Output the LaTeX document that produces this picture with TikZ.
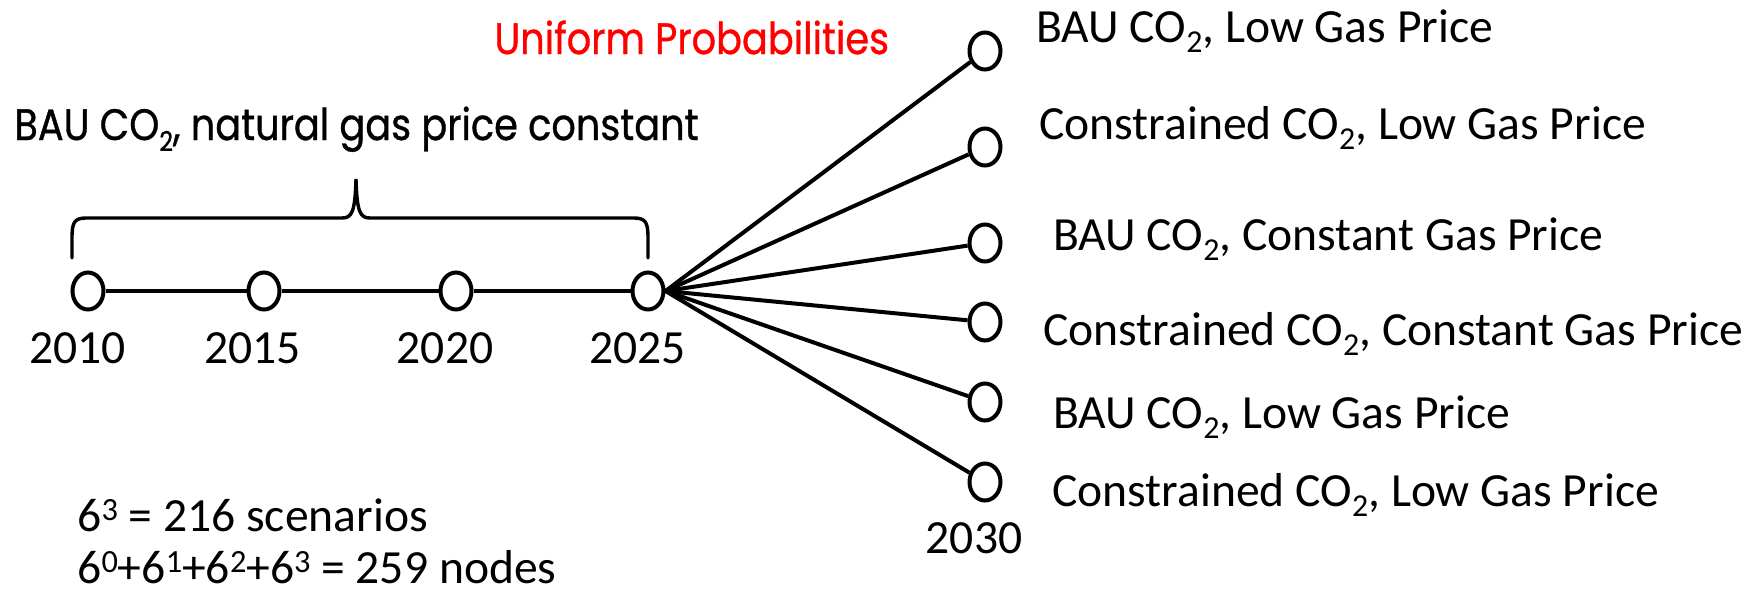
\documentclass[tikz,border=0pt]{standalone}
\usepackage{fontspec}
\setmainfont{Carlito}
\newfontfamily\futura[FakeStretch=0.87,FakeBold=0.8]{Poppins}
\usetikzlibrary{shapes.geometric}
\newcommand{\mysub}[1]{\raisebox{-0.22em}{\scalebox{0.67}{#1}}}
\newcommand{\mysup}[1]{\raisebox{0.23em}{\scalebox{0.68}{#1}}}
\newcommand{\fsub}[1]{\raisebox{-0.25em}{\scalebox{0.62}{#1}}}
\begin{document}
\begin{tikzpicture}[x=0.5pt,y=-0.5pt,
  tnode/.style={draw,ellipse,line width=2pt,minimum width=15.5pt,minimum height=18.5pt,inner sep=0pt,fill=white},
  conn/.style={line width=2pt},
  cal/.style={inner sep=0pt,font=\fontsize{23.8}{28}\selectfont},
  fut/.style={inner sep=0pt,font=\futura\fontsize{22}{26}\selectfont},
  brace/.style={line width=1.7pt,line cap=round}]
\useasboundingbox[fill=white] (0,0) rectangle (1762,595);
% timeline nodes
\node[tnode] (t10) at (88,291) {};
\node[tnode] (t15) at (264,291) {};
\node[tnode] (t20) at (456,291) {};
\node[tnode] (t25) at (648,291) {};
% 2030 nodes
\node[tnode] (r1) at (985,51) {};
\node[tnode] (r2) at (985,147) {};
\node[tnode] (r3) at (985,243) {};
\node[tnode] (r4) at (985,322) {};
\node[tnode] (r5) at (985,402) {};
\node[tnode] (r6) at (985,482) {};
% connectors
\draw[conn] (t10) -- (t15);
\draw[conn] (t15) -- (t20);
\draw[conn] (t20) -- (t25);
\foreach \i in {1,...,6}{\draw[conn] (t25.east) -- (r\i);}
% brace
\draw[brace] (72,258) -- (72,238) .. controls (72,223) and (74,218) .. (86,218) -- (342,218) .. controls (352,218) and (355,212) .. (356,179) .. controls (357,212) and (360,218) .. (370,218) -- (634,218) .. controls (646,218) and (648,223) .. (648,238) -- (648,258);
% year labels
\node[cal,anchor=base] (y10) at (77.5,363) {2010};
\node[cal,anchor=base] (y15) at (252.5,363) {2015};
\node[cal,anchor=base] (y20) at (445,363) {2020};
\node[cal,anchor=base] (y25) at (637.5,363) {2025};
\node[cal,anchor=base] (y30) at (974,553) {2030};
% scenario labels
\node[cal,anchor=base west] (l1) at (1036,42) {BAU CO\mysub{2}, Low Gas Price};
\node[cal,anchor=base west] (l2) at (1039,139) {Constrained CO\mysub{2}, Low Gas Price};
\node[cal,anchor=base west] (l3) at (1053,250) {BAU CO\mysub{2}, Constant Gas Price};
\node[cal,anchor=base west] (l4) at (1043,345) {Constrained CO\mysub{2}, Constant Gas Price};
\node[cal,anchor=base west] (l5) at (1053,428) {BAU CO\mysub{2}, Low Gas Price};
\node[cal,anchor=base west] (l6) at (1052,506) {Constrained CO\mysub{2}, Low Gas Price};
% titles
\node[fut,anchor=base west] (bau) at (14,140) {BAU CO\fsub{2}, natural gas price constant};
\node[fut,anchor=base west,text={rgb,255:red,255;green,0;blue,0}] (uni) at (494,54) {Uniform Probabilities};
% counts
\node[cal,anchor=base west] (n1) at (77,531) {6\mysup{3} = 216 scenarios};
\node[cal,anchor=base west] (n2) at (77,583) {6\mysup{0}+6\mysup{1}+6\mysup{2}+6\mysup{3} = 259 nodes};
\end{tikzpicture}
\end{document}
